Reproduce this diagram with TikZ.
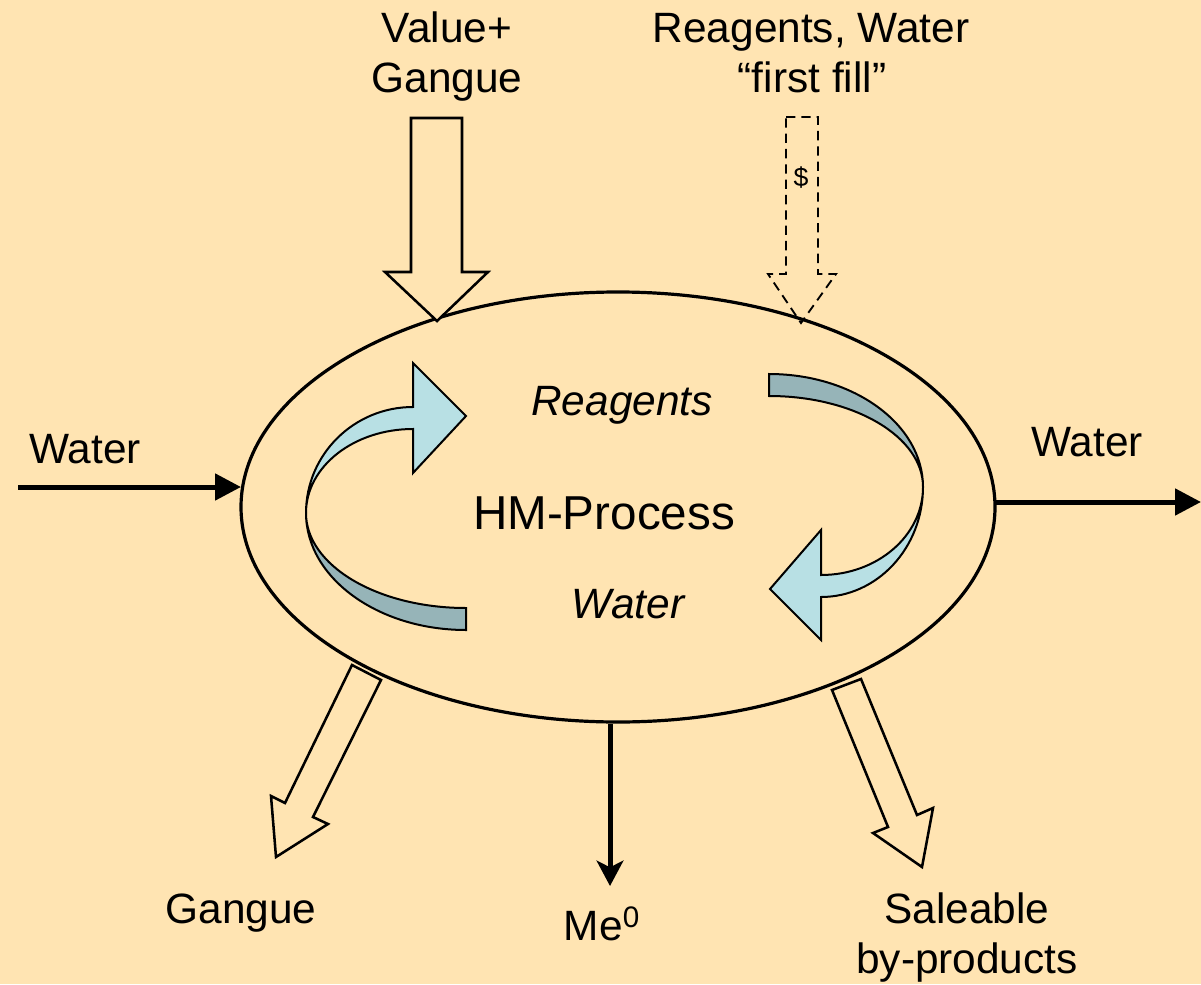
\documentclass[tikz,border=0pt]{standalone}
\usepackage{fontspec}
\setmainfont{Liberation Sans}
\usetikzlibrary{arrows.meta,shapes.geometric}
\definecolor{bg}{HTML}{FFE4B2}
\definecolor{ribbonlight}{HTML}{B8E0E4}
\definecolor{ribbondark}{HTML}{96B4B8}
\begin{document}
\begin{tikzpicture}[x=0.75pt,y=-0.75pt,
  lbl/.style={font=\fontsize{31.8}{38}\selectfont, inner sep=0pt, anchor=base},
  ilbl/.style={lbl, font=\fontsize{31.8}{38}\selectfont\itshape},
  blockarrow/.style={draw=black, line width=1.9pt, fill=bg, line join=miter},
  dasharrow/.style={draw=black, line width=1.4pt, dash pattern=on 7pt off 4.5pt, line join=miter},
  flow/.style={draw=black, line width=3.75pt, -{Triangle[length=19.5pt,width=19.5pt]}},
  flowdown/.style={draw=black, line width=3.75pt, -{Stealth[length=19pt,width=20pt,inset=5pt]}},
  ribbon/.style={draw=black, line width=1.5pt, line join=miter},
  procshape/.style={ellipse, draw=black, line width=2.4pt, fill=bg, minimum width=565.5pt, minimum height=322.5pt, inner sep=0pt}
]
\fill[bg] (0,0) rectangle (1201,984);
\useasboundingbox (0,0) rectangle (1201,984);

% process ellipse
\node[procshape] (proc) at (618,507) {};

% input block arrow: Value + Gangue
\draw[blockarrow] (411,118) -- (462,118) -- (462,272) -- (488,272) -- (437,321) -- (385,272) -- (411,272) -- cycle;
% dashed first-fill arrow
\draw[dasharrow] (786,117) -- (818,117) -- (818,274) -- (836,274) -- (801,323) -- (768,274) -- (786,274) -- cycle;
\node[inner sep=0pt, font=\fontsize{20}{24}\selectfont] (dollar) at (801,178) {\$};

% output block arrows
\draw[blockarrow] (352,665) -- (285,803) -- (271,796) -- (276,857) -- (328,824) -- (313,817) -- (381,680) -- cycle;
\draw[blockarrow] (832,690) -- (888,827) -- (873,833) -- (922,867) -- (933,808) -- (917,815) -- (861,679) -- cycle;

% water in / out, metal out
\coordinate (win) at (18,487);
\coordinate (winend) at (241,487);
\coordinate (wout) at (995,502);
\coordinate (woutend) at (1201,502);
\coordinate (mestart) at (610,724);
\coordinate (meend) at (610,886);
\draw[flow] (win) -- (winend);
\draw[flow] (wout) -- (woutend);
\draw[flowdown] (mestart) -- (meend);

% left curved ribbon arrow
\fill[ribbondark] (306,513) .. controls (306,577.6) and (377.6,630) .. (466,630) -- (466,608) .. controls (377.6,608) and (306,565.5) .. (306,513) -- cycle;
\draw[ribbon] (306,513) .. controls (306,577.6) and (377.6,630) .. (466,630) -- (466,608) .. controls (377.6,608) and (306,565.5) .. (306,513) -- cycle;
\draw[ribbon, fill=ribbonlight] (306,513) .. controls (306,454.5) and (353.9,407) .. (413,407) -- (413,363) -- (466,416) -- (413,473) -- (413,429) .. controls (353.9,429) and (306,466.6) .. (306,513) -- cycle;

% right curved ribbon arrow
\draw[ribbon, fill=ribbondark] (769,374) .. controls (854.1,374) and (923,424.6) .. (923,487) .. controls (923,436.7) and (854.1,396) .. (769,396) -- cycle;
\draw[ribbon, fill=ribbonlight] (923,487) .. controls (923,547.8) and (877.3,597) .. (821,597) -- (821,640) -- (770,589) -- (821,530) -- (821,575) .. controls (877.3,575) and (923,535.6) .. (923,487) -- cycle;

% texts
\node[lbl] (vg1) at (447,43) {Value+};
\node[lbl] (vg2) at (447,93) {Gangue};
\node[lbl] (rw1) at (811,43) {Reagents, Water};
\node[lbl] (rw2) at (812,93) {“first fill”};
\node[lbl] (wl) at (85,463) {Water};
\node[lbl] (wr) at (1087,456) {Water};
\node[lbl, font=\fontsize{35.7}{42}\selectfont] (hm) at (604,529) {HM-Process};
\node[ilbl] (reag) at (622,415) {Reagents};
\node[ilbl] (wat) at (628,618) {Water};
\node[lbl] (gang) at (241,923) {Gangue};
\node[lbl] (me) at (602,940) {Me\textsuperscript{0}};
\node[lbl] (sb1) at (967,923) {Saleable};
\node[lbl] (sb2) at (967,973) {by-products};
\end{tikzpicture}
\end{document}
